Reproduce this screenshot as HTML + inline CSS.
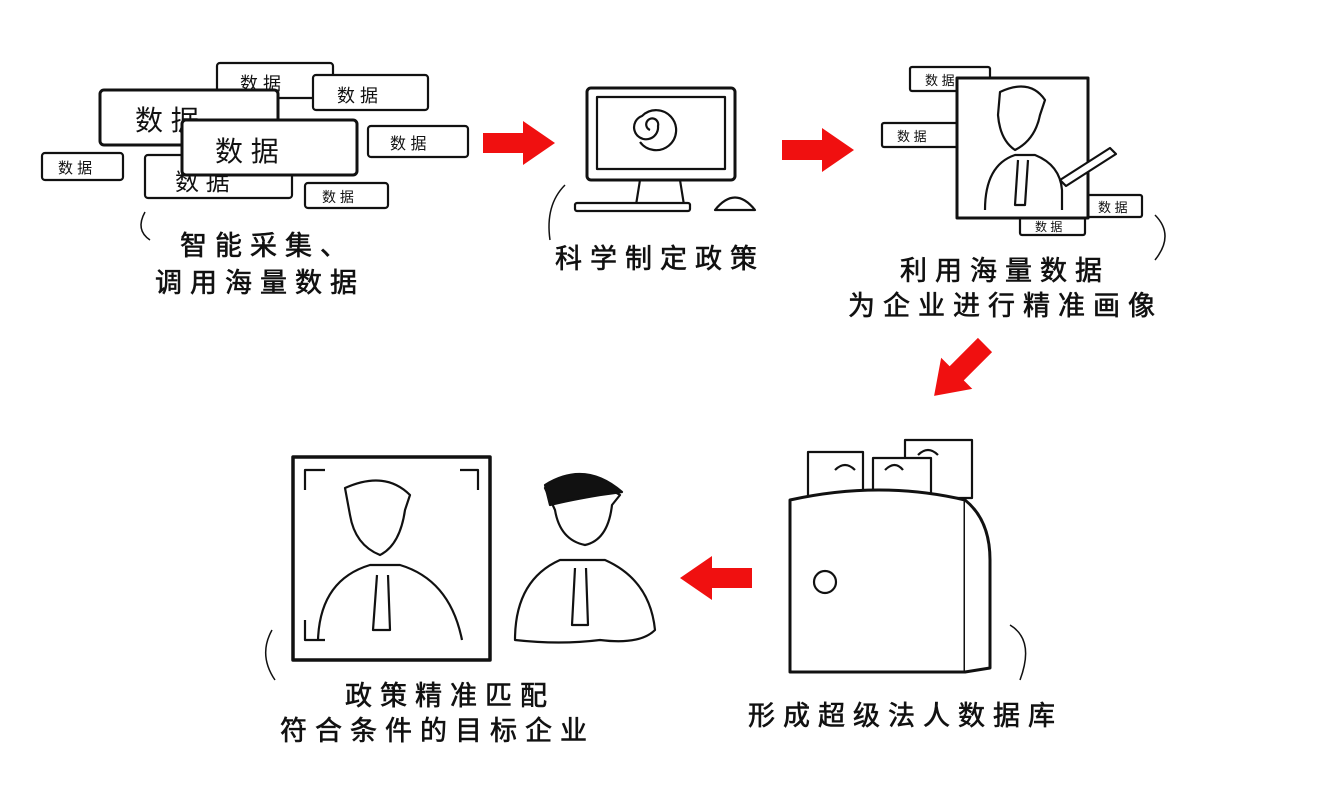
<!DOCTYPE html>
<html><head><meta charset="utf-8"><style>
html,body{margin:0;padding:0;background:#fff;}
body{width:1320px;height:782px;overflow:hidden;}
svg text{font-family:"Liberation Sans","WenQuanYi Zen Hei","Noto Sans CJK SC",sans-serif;fill:#111;}
.lbl text{letter-spacing:8px;stroke:#111;stroke-width:0.6px;}
</style></head><body>
<svg width="1320" height="782" viewBox="0 0 1320 782" xmlns="http://www.w3.org/2000/svg">
<defs>
<g id="arrowR"><path d="M0,-10 L40,-10 L40,-22 L72,0 L40,22 L40,10 L0,10 Z" fill="#f01010"/></g>
</defs>
<g stroke="#111" stroke-width="2.2" fill="#fff" stroke-linejoin="round">
<rect x="217" y="63" width="116" height="35" rx="3"/><text x="240" y="90" font-size="18" stroke="none">数 据</text>
<rect x="313" y="75" width="115" height="35" rx="3"/><text x="337" y="102" font-size="18" stroke="none">数 据</text>
<rect x="100" y="90" width="178" height="55" rx="4" stroke-width="3"/><text x="135" y="130" font-size="28" stroke="none">数 据</text>
<rect x="145" y="155" width="147" height="43" rx="3"/><text x="175" y="190" font-size="24" stroke="none">数 据</text>
<rect x="182" y="120" width="175" height="55" rx="4" stroke-width="3"/><text x="215" y="161" font-size="28" stroke="none">数 据</text>
<rect x="368" y="126" width="100" height="31" rx="3"/><text x="390" y="149" font-size="16" stroke="none">数 据</text>
<rect x="42" y="153" width="81" height="27" rx="3"/><text x="58" y="173" font-size="15" stroke="none">数 据</text>
<rect x="305" y="183" width="83" height="25" rx="3"/><text x="322" y="202" font-size="14" stroke="none">数 据</text>
<rect x="587" y="88" width="148" height="92" rx="4" stroke-width="3"/>
<rect x="597" y="97" width="128" height="72" fill="#fff"/>
<path d="M650,130 a6,6 0 1,1 8,-4 a12,12 0 1,1 -16,-10 a20,20 0 1,1 -2,26" fill="none"/>
<path d="M640,180 L636,205 M680,180 L684,205" fill="none"/>
<rect x="575" y="203" width="115" height="8" rx="2"/>
<path d="M715,210 Q735,185 755,210 Z"/>
<rect x="910" y="67" width="80" height="24" rx="2"/><text x="925" y="85" font-size="13" stroke="none">数 据</text>
<rect x="882" y="123" width="80" height="24" rx="2"/><text x="897" y="141" font-size="13" stroke="none">数 据</text>
<rect x="1082" y="195" width="60" height="22" rx="2"/><text x="1098" y="212" font-size="13" stroke="none">数 据</text>
<rect x="1020" y="215" width="65" height="20" rx="2"/><text x="1035" y="231" font-size="12" stroke="none">数 据</text>
<rect x="957" y="78" width="131" height="140" stroke-width="3"/>
<path d="M1000,92 Q1030,78 1045,100 L1040,115 Q1035,140 1015,150 Q1000,140 998,115 Z"/>
<path d="M985,210 Q985,165 1015,155 L1035,155 Q1060,165 1062,190 L1062,210"/>
<path d="M1018,160 L1015,205 L1025,205 L1028,160" />
<path d="M1060,180 L1110,148 L1116,154 L1066,186 Z"/>
<rect x="808" y="452" width="55" height="45"/>
<rect x="905" y="440" width="67" height="58"/>
<rect x="873" y="458" width="58" height="40"/>
<path d="M835,470 q10,-10 20,0 M918,455 q10,-10 20,0 M885,470 q10,-10 18,0" fill="none"/>
<path d="M790,500 Q880,480 965,500 L965,672 L790,672 Z" stroke-width="3"/>
<path d="M965,500 Q990,520 990,560 L990,668 L965,672" stroke-width="3"/>
<circle cx="825" cy="582" r="11"/>
<rect x="293" y="457" width="197" height="203" stroke-width="3.5"/>
<path d="M345,488 Q385,470 410,495 L405,510 Q400,545 380,555 Q355,545 350,515 Z"/>
<path d="M318,640 Q320,580 370,565 L400,565 Q450,580 462,640"/>
<path d="M377,575 L373,630 L390,630 L388,575"/>
<path d="M305,490 L305,470 L325,470 M460,470 L478,470 L478,490 M305,620 L305,640 L325,640" fill="none"/>
<path d="M545,488 Q580,470 620,495 L612,505 Q608,540 585,545 Q560,540 555,510 Z"/>
<path d="M545,485 Q585,460 622,492 L600,495 Q570,500 550,505 Z" fill="#111"/>
<path d="M515,640 Q515,580 560,560 L605,560 Q650,580 655,630 Q640,645 600,640 Q560,645 515,640 Z"/>
<path d="M575,568 L572,625 L588,625 L586,568"/>
<!-- small squiggle pointers -->
<path d="M145,212 Q135,230 150,240" fill="none" stroke-width="1.5"/>
<path d="M565,185 Q545,205 550,240" fill="none" stroke-width="1.5"/>
<path d="M1155,215 Q1175,235 1155,260" fill="none" stroke-width="1.5"/>
<path d="M1010,625 Q1035,640 1020,680" fill="none" stroke-width="1.5"/>
<path d="M272,630 Q258,655 275,680" fill="none" stroke-width="1.5"/>
</g>
<use href="#arrowR" x="483" y="143"/>
<use href="#arrowR" x="782" y="150"/>
<g transform="translate(985,345) rotate(135)"><use href="#arrowR" x="0" y="0"/></g>
<g transform="translate(752,578) rotate(180)"><use href="#arrowR" x="0" y="0"/></g>
<g font-size="27" class="lbl">
<text x="180" y="255">智能采集、</text>
<text x="155" y="292">调用海量数据</text>
<text x="555" y="268">科学制定政策</text>
<text x="900" y="280">利用海量数据</text>
<text x="848" y="315">为企业进行精准画像</text>
<text x="748" y="725">形成超级法人数据库</text>
<text x="345" y="705">政策精准匹配</text>
<text x="280" y="740">符合条件的目标企业</text>
</g>
</svg>
</body></html>
